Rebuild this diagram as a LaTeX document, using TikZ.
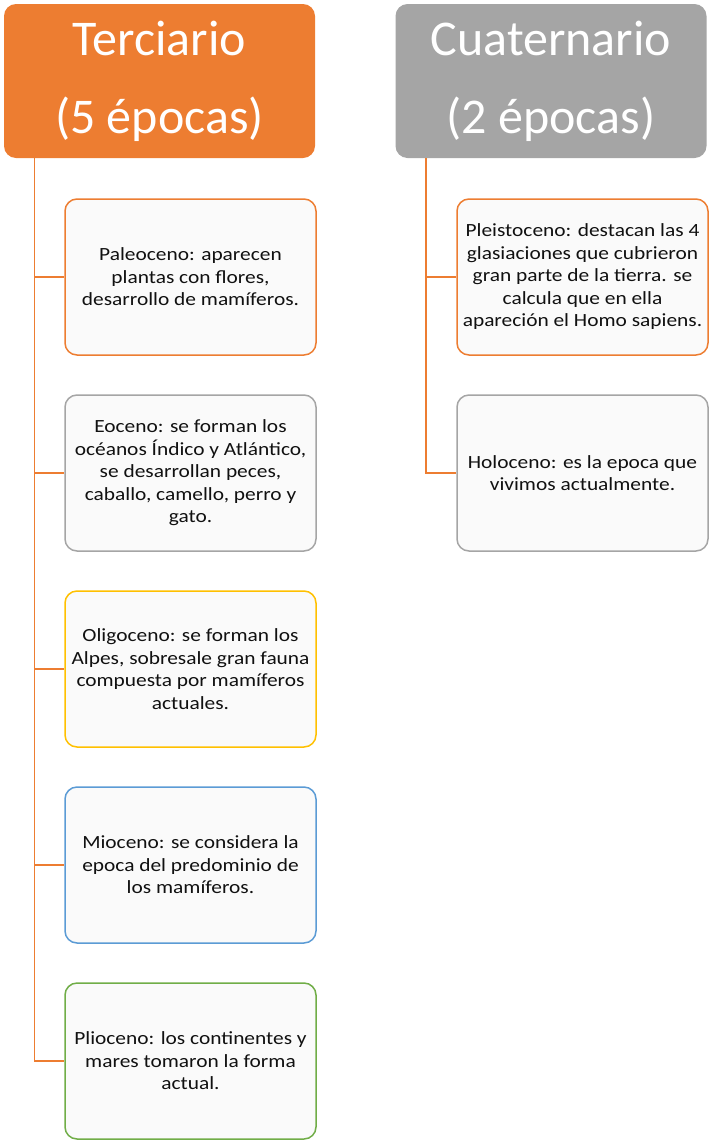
\documentclass[tikz,border=0pt]{standalone}
\usepackage{fontspec}
\setmainfont{Carlito}
\newfontfamily\childfont[FakeStretch=1.15]{Carlito}
\definecolor{cOrange}{HTML}{ED7D31}
\definecolor{cGray}{HTML}{A5A5A5}
\definecolor{cYellow}{HTML}{FFC000}
\definecolor{cBlue}{HTML}{5B9BD5}
\definecolor{cGreen}{HTML}{70AD47}
\definecolor{cFill}{HTML}{FAFAFA}
\definecolor{cText}{HTML}{111111}
\begin{document}
\begin{tikzpicture}[x=1pt,y=-1pt,
  header/.style={rectangle,rounded corners=12pt,minimum width=311pt,minimum height=154pt,
    inner sep=0pt,align=center,text=white,font=\fontsize{50}{78}\selectfont},
  epoch/.style={rectangle,rounded corners=12pt,minimum width=251pt,minimum height=156pt,
    inner sep=0pt,align=center,fill=cFill,line width=1.5pt,text=cText,
    font=\childfont\fontsize{18.6}{22.5}\selectfont},
  link/.style={draw=cOrange,line width=1.5pt}]
\useasboundingbox (0,0) rectangle (713,1141);
% headers
\node[header,fill=cOrange] (terc) at (159.5,81) {Terciario\\(5 épocas)};
\node[header,fill=cGray] (cuat) at (551,81) {Cuaternario\\(2 épocas)};
% Terciario children
\node[epoch,draw=cOrange] (paleo) at (190.5,277) {Paleoceno: aparecen\\plantas con flores,\\desarrollo de mamíferos.};
\node[epoch,draw=cGray] (eoc) at (190.5,473) {Eoceno: se forman los\\océanos Índico y Atlántico,\\se desarrollan peces,\\caballo, camello, perro y\\gato.};
\node[epoch,draw=cYellow] (oligo) at (190.5,669) {Oligoceno: se forman los\\Alpes, sobresale gran fauna\\compuesta por mamíferos\\actuales.};
\node[epoch,draw=cBlue] (mio) at (190.5,865) {Mioceno: se considera la\\epoca del predominio de\\los mamíferos.};
\node[epoch,draw=cGreen] (plio) at (190.5,1061) {Plioceno: los continentes y\\mares tomaron la forma\\actual.};
% Cuaternario children
\node[epoch,draw=cOrange] (pleis) at (582.5,277) {Pleistoceno: destacan las 4\\glasiaciones que cubrieron\\gran parte de la tierra. se\\calcula que en ella\\apareción el Homo sapiens.};
\node[epoch,draw=cGray] (holo) at (582.5,473) {Holoceno: es la epoca que\\vivimos actualmente.};
% connectors
\coordinate (tl) at ([xshift=-125pt]terc.south);
\coordinate (cl) at ([xshift=-125pt]cuat.south);
\draw[link] (tl) |- (paleo.west);
\draw[link] (tl) |- (eoc.west);
\draw[link] (tl) |- (oligo.west);
\draw[link] (tl) |- (mio.west);
\draw[link] (tl) |- (plio.west);
\draw[link] (cl) |- (pleis.west);
\draw[link] (cl) |- (holo.west);
\end{tikzpicture}
\end{document}
